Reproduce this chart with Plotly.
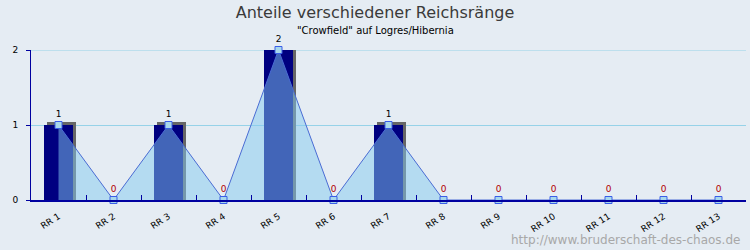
import plotly.graph_objects as go

categories = ["RR 1", "RR 2", "RR 3", "RR 4", "RR 5", "RR 6", "RR 7",
              "RR 8", "RR 9", "RR 10", "RR 11", "RR 12", "RR 13"]
values = [1, 0, 1, 0, 2, 0, 1, 0, 0, 0, 0, 0, 0]
y_ticks = [0, 1, 2]

title = "Anteile verschiedener Reichsränge"
subtitle = "\"Crowfield\" auf Logres/Hibernia"
watermark = "http://www.bruderschaft-des-chaos.de"

FONT = "DejaVu Sans"
BG = "#e5ecf3"
GRID = "#96d2e8"
bar_w = 0.53
shadow_dx = 3 / 55.0   # ~3px in category units
shadow_dy = 3 / 75.0   # ~3px in value units

W, H = 750, 250
ML, MR, MT, MB = 31, 4, 50, 50
PW, PH = W - ML - MR, H - MT - MB


def px_to_paper(xp, yp):
    return (xp - ML) / PW, (H - MB - yp) / PH


fig = go.Figure()

# shadow
fig.add_trace(go.Bar(
    x=categories,
    y=[v + shadow_dy if v > 0 else 0 for v in values],
    width=bar_w,
    offset=-bar_w / 2 + shadow_dx,
    marker=dict(color="#666666", line=dict(width=0)),
    cliponaxis=False,
    hoverinfo="skip", showlegend=False,
))
# bars
fig.add_trace(go.Bar(
    x=categories, y=values,
    width=bar_w,
    offset=-bar_w / 2,
    marker=dict(color="#000080", line=dict(width=0)),
    cliponaxis=False,
    showlegend=False,
))
# area line
fig.add_trace(go.Scatter(
    x=categories, y=values,
    mode="lines+markers+text",
    fill="tozeroy",
    fillcolor="rgba(131,202,239,0.5)",
    line=dict(color="#4a6cd4", width=1),
    marker=dict(symbol="square", size=7, color="#a8d8ec",
                line=dict(color="#3a5ee8", width=1)),
    text=[str(v) for v in values],
    textposition="top center",
    textfont=dict(family=FONT, size=9,
                  color=["#b00000" if v == 0 else "#000000" for v in values]),
    cliponaxis=False,
    showlegend=False,
))

sx, sy = px_to_paper(375, 30)
wx, wy = px_to_paper(742, 240)

fig.update_layout(
    width=W, height=H,
    margin=dict(l=ML, r=MR, t=MT, b=MB),
    paper_bgcolor=BG, plot_bgcolor=BG,
    barmode="overlay",
    bargap=0,
    font=dict(family=FONT, size=9, color="#000000"),
    title=dict(
        text=title,
        x=0.5, xanchor="center", xref="container",
        y=1 - 12 / H, yanchor="middle",
        font=dict(family=FONT, size=16, color="#3a3a3a"),
    ),
    annotations=[
        dict(text=subtitle, x=sx, xref="paper", xanchor="center",
             y=sy, yref="paper", yanchor="middle",
             showarrow=False, font=dict(family=FONT, size=10, color="#000000")),
        dict(text=watermark, x=wx, xref="paper", xanchor="right",
             y=wy, yref="paper", yanchor="middle",
             showarrow=False, font=dict(family=FONT, size=12, color="#a8a8a8")),
    ],
    shapes=[
        dict(type="line", xref="paper", yref="y", x0=0, x1=1,
             y0=max(y_ticks), y1=max(y_ticks),
             line=dict(color=GRID, width=1), layer="below"),
    ],
)

fig.update_xaxes(
    type="category",
    range=[-0.5, len(categories) - 0.5],
    showline=True, linecolor="#0000a0", linewidth=1.5,
    ticks="inside", tickson="boundaries", ticklen=5,
    tickcolor="#0000a0", tickwidth=1,
    tickangle=-33,
    ticklabelstandoff=6,
    tickfont=dict(family=FONT, size=9, color="#000000"),
    showgrid=False, zeroline=False,
)
fig.update_yaxes(
    range=[0, 2],
    tickvals=y_ticks,
    showline=True, linecolor="#0000a0", linewidth=1,
    ticks="outside", ticklen=4, tickcolor="#0000a0",
    ticklabelstandoff=6,
    tickfont=dict(family=FONT, size=9, color="#000000"),
    showgrid=True, gridcolor=GRID, gridwidth=1,
    zeroline=False,
)

fig.write_html("out.html")
